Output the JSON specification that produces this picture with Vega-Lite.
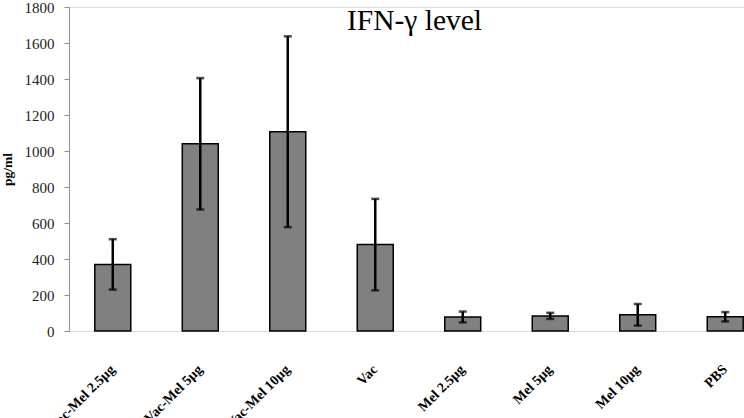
{
  "$schema": "https://vega.github.io/schema/vega-lite/v6.json",
  "autosize": {"type": "none"},
  "width": 675,
  "height": 324,
  "padding": {"left": 69, "top": 7, "right": 0, "bottom": 87},
  "background": "white",
  "title": {"text": "IFN-γ level", "font": "Liberation Serif", "fontSize": 29.5, "fontWeight": "normal", "color": "black", "anchor": "middle", "offset": -36, "dx": 8},
  "data": {"values": [
    {"group": "Vac-Mel 2.5µg", "mean": 370, "err": 140},
    {"group": "Vac-Mel 5µg", "mean": 1040, "err": 365},
    {"group": "Vac-Mel 10µg", "mean": 1107, "err": 530},
    {"group": "Vac", "mean": 480, "err": 254},
    {"group": "Mel 2.5µg", "mean": 78, "err": 30},
    {"group": "Mel 5µg", "mean": 84, "err": 17},
    {"group": "Mel 10µg", "mean": 90, "err": 60},
    {"group": "PBS", "mean": 79, "err": 26}
  ]},
  "encoding": {
    "x": {"field": "group", "type": "nominal", "sort": null,
      "scale": {"paddingInner": 0.589, "paddingOuter": 0.152, "align": 0.97},
      "axis": {"title": null, "domain": false, "ticks": false, "labelAngle": -45, "labelAlign": "right", "labelBaseline": "middle", "labelFont": "Liberation Serif", "labelFontSize": 14, "labelFontWeight": "bold", "labelColor": "black", "labelPadding": 36, "labelOffset": 0}},
    "y": {"field": "mean", "type": "quantitative",
      "scale": {"domain": [0, 1800], "nice": false},
      "axis": {"values": [0,200,400,600,800,1000,1200,1400,1600,1800], "format": "d", "grid": false, "domainColor": "#8c8c8c", "tickColor": "#8c8c8c", "tickSize": 5, "labelFont": "Liberation Serif", "labelFontSize": 15, "labelColor": "#222", "labelPadding": 10, "title": "pg/ml", "titleFont": "Liberation Serif", "titleFontSize": 13.5, "titleFontWeight": "bold", "titleColor": "black", "titlePadding": 10}}
  },
  "layer": [
    {
      "mark": {"type": "bar", "fill": "#808080", "stroke": "black", "strokeWidth": 1.5}
    },
    {
      "mark": {"type": "errorbar", "color": "black", "thickness": 2.5, "ticks": {"size": 8, "thickness": 2.5, "color": "black"}},
      "encoding": {
        "yError": {"field": "err"}
      }
    }
  ]
}
